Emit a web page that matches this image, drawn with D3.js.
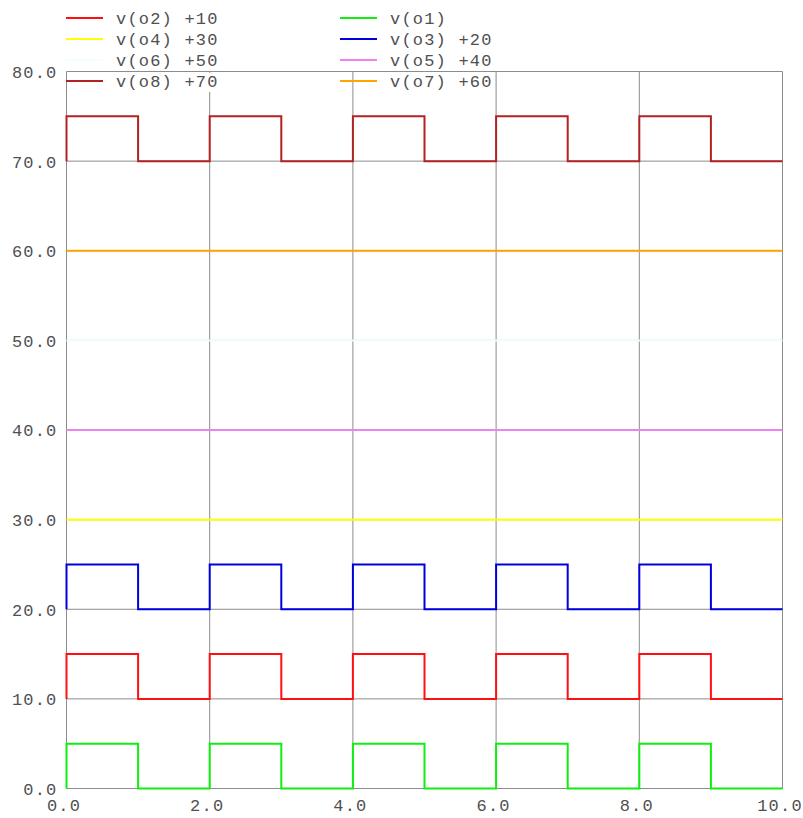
<!DOCTYPE html>
<html>
<head>
<meta charset="utf-8">
<script src="https://cdn.jsdelivr.net/npm/d3@7"></script>
<style>
  html, body { margin: 0; padding: 0; background: #fff; }
  svg { display: block; }
  text { font-family: "Liberation Mono", "DejaVu Sans Mono", monospace; font-size: 17px; fill: #505050; letter-spacing: 1.2px; }
</style>
</head>
<body>
<svg id="chart" width="803" height="818"></svg>
<script>
// Simulation time points (step-after: each value holds until the next time)
const times = [0, 0, 1, 2, 3, 4, 5, 6, 7, 8, 9, 10];

// Node voltages with their display offsets
const o1 = [0, 5, 0, 5, 0, 5, 0, 5, 0, 5, 0, 0];
const o2 = [10, 15, 10, 15, 10, 15, 10, 15, 10, 15, 10, 10];
const o3 = [20, 25, 20, 25, 20, 25, 20, 25, 20, 25, 20, 20];
const o4 = [30, 30, 30, 30, 30, 30, 30, 30, 30, 30, 30, 30];
const o5 = [40, 40, 40, 40, 40, 40, 40, 40, 40, 40, 40, 40];
const o6 = [50, 50, 50, 50, 50, 50, 50, 50, 50, 50, 50, 50];
const o7 = [60, 60, 60, 60, 60, 60, 60, 60, 60, 60, 60, 60];
const o8 = [70, 75, 70, 75, 70, 75, 70, 75, 70, 75, 70, 70];

// Legend order (two columns, row by row)
const seriesNames = ["v(o2) +10", "v(o1)", "v(o4) +30", "v(o3) +20",
                     "v(o6) +50", "v(o5) +40", "v(o8) +70", "v(o7) +60"];
const seriesValues = [o2, o1, o4, o3, o6, o5, o8, o7];
const seriesColors = ["#ff1010", "#10ee10", "#ffff00", "#0000dd",
                      "#f0ffff", "#ee82ee", "#b22222", "#ffa500"];

const xTicks = [0, 2, 4, 6, 8, 10];
const yTicks = [0, 10, 20, 30, 40, 50, 60, 70, 80];

const svg = d3.select("#chart");
const plotLeft = 66.5, plotRight = 782.5, plotTop = 71.5, plotBottom = 788.5;

const x = d3.scaleLinear().domain([0, 10]).range([plotLeft, plotRight]);
const y = d3.scaleLinear().domain([0, 80]).range([plotBottom, plotTop]);
const fmt = d3.format(".1f");

// Grid
const grid = svg.append("g").attr("stroke", "#8c8c8c").attr("stroke-width", 1);
grid.selectAll("line.v").data(xTicks).join("line")
  .attr("class", "v")
  .attr("x1", d => x(d)).attr("x2", d => x(d))
  .attr("y1", plotTop).attr("y2", plotBottom);
grid.selectAll("line.h").data(yTicks).join("line")
  .attr("class", "h")
  .attr("x1", plotLeft).attr("x2", plotRight)
  .attr("y1", d => y(d)).attr("y2", d => y(d));

// Axes (labels only)
const yAxis = svg.append("g").attr("transform", `translate(${plotLeft},0)`)
  .call(d3.axisLeft(y).tickValues(yTicks).tickFormat(fmt).tickSize(0).tickPadding(9));
yAxis.select(".domain").remove();
yAxis.selectAll("text").attr("dy", "0.35em");

const xAxis = svg.append("g").attr("transform", `translate(-3,${plotBottom})`)
  .call(d3.axisBottom(x).tickValues(xTicks).tickFormat(fmt).tickSize(0).tickPadding(10));
xAxis.select(".domain").remove();
svg.selectAll(".tick text").attr("fill", "#505050");
svg.selectAll("g[font-family]").attr("font-family", null).attr("font-size", null);

// Traces
const line = d3.line()
  .x((d, i) => x(times[i]))
  .y(d => y(d))
  .curve(d3.curveStepAfter);

const drawOrder = [1, 0, 3, 2, 5, 4, 7, 6];
svg.append("g").selectAll("path").data(drawOrder).join("path")
  .attr("d", i => line(seriesValues[i]))
  .attr("fill", "none")
  .attr("stroke", i => seriesColors[i])
  .attr("stroke-width", 2);

// Legend
const legend = svg.append("g");
const rowY = [18, 39, 60, 81];
const colX = [66, 340];
seriesNames.forEach((name, i) => {
  const cx = colX[i % 2], cy = rowY[Math.floor(i / 2)];
  const g = legend.append("g");
  const t = g.append("text").attr("x", cx + 50).attr("y", cy).attr("dy", "0.35em").text(name);
  const bb = t.node().getBBox();
  g.insert("rect", "text")
    .attr("x", bb.x - 4).attr("y", bb.y)
    .attr("width", bb.width + 6).attr("height", bb.height)
    .attr("fill", "#fff");
  g.append("line")
    .attr("x1", cx).attr("x2", cx + 37)
    .attr("y1", cy).attr("y2", cy)
    .attr("stroke", seriesColors[i]).attr("stroke-width", 2);
});
</script>
</body>
</html>
